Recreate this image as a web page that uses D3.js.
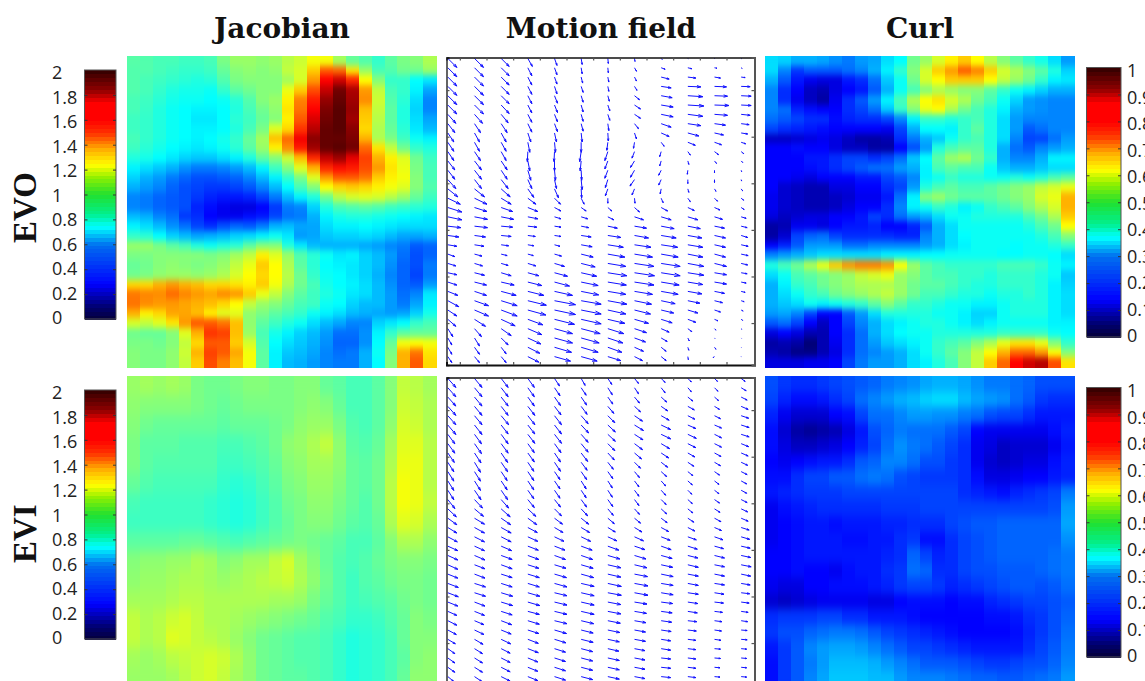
<!DOCTYPE html>
<html>
<head>
<meta charset="utf-8">
<script src="https://cdn.jsdelivr.net/npm/d3@7"></script>
<style>
  html, body { margin: 0; background: #fff; overflow: hidden; }
  svg { display: block; }
</style>
</head>
<body>
<div id="chart"></div>
<script>
const columnTitles = ["Jacobian", "Motion field", "Curl"];
const rowTitles = ["EVO", "EVI"];
const jacobianTicks = [0, 0.2, 0.4, 0.6, 0.8, 1, 1.2, 1.4, 1.6, 1.8, 2];
const curlTicks = [0, 0.1, 0.2, 0.3, 0.4, 0.5, 0.6, 0.7, 0.8, 0.9, 1];

// panel values in hundredths
const jacobianEvo = [
[91,90,88,88,86,86,88,98,104,104,102,104,110,114,122,122,106,94,90,84,92,98,100,108],
[90,90,88,86,84,84,86,94,100,102,100,102,112,116,132,150,148,128,104,88,90,96,96,104],
[90,88,86,84,82,80,82,90,98,100,100,100,106,116,140,164,172,158,124,100,84,84,74,70],
[90,88,84,80,78,78,76,84,92,96,100,100,120,132,152,174,188,178,140,112,88,84,72,58],
[88,86,82,78,76,76,74,76,82,90,100,104,126,144,160,182,190,180,142,114,90,82,68,52],
[88,85,80,76,74,72,72,74,80,88,96,102,128,146,164,186,192,182,134,112,92,80,66,52],
[86,84,80,76,74,70,70,74,82,86,94,100,126,150,170,188,192,180,132,110,92,80,68,58],
[86,84,80,76,74,72,72,74,80,88,98,118,130,156,176,190,192,184,130,108,94,82,70,62],
[88,84,80,76,74,72,74,78,84,94,106,134,148,166,184,190,190,186,136,108,98,86,76,72],
[86,82,78,74,72,70,72,76,82,92,104,126,142,160,180,190,192,188,148,128,112,96,84,80],
[80,78,74,70,66,64,64,68,72,80,92,100,114,134,158,174,180,168,154,136,126,118,96,86],
[72,68,64,60,54,50,50,52,56,62,72,86,100,118,136,158,162,160,152,140,128,120,98,88],
[66,60,56,50,46,42,42,44,46,52,62,72,84,98,118,140,150,150,146,132,126,122,100,88],
[60,56,52,46,42,40,38,38,40,44,52,62,74,88,100,124,130,132,130,126,122,118,100,90],
[52,50,46,44,42,38,34,32,32,34,40,50,62,72,80,96,110,116,118,116,110,104,94,86],
[52,50,46,44,42,34,30,26,24,24,28,38,50,52,66,80,88,90,92,90,86,84,82,80],
[62,60,52,48,38,36,28,26,26,30,32,40,48,50,60,72,78,80,80,78,76,74,72,70],
[72,68,62,54,48,40,36,42,46,44,50,60,62,58,58,68,72,72,74,72,70,68,68,68],
[84,82,74,66,62,58,60,62,66,68,72,76,70,56,58,64,66,66,68,66,62,58,58,60],
[104,104,98,92,88,80,76,80,82,92,100,100,80,70,62,60,60,60,58,56,52,50,44,46],
[98,98,100,100,100,100,98,100,106,112,126,118,104,90,82,76,70,72,66,62,56,48,42,46],
[94,96,100,102,100,98,100,104,112,120,132,124,108,92,82,74,72,70,66,62,54,46,42,50],
[96,98,102,104,104,102,104,108,116,124,130,124,110,96,84,76,74,70,66,60,52,46,40,50],
[130,130,136,140,136,134,130,130,128,126,132,122,108,96,88,78,74,72,68,62,54,46,44,56],
[145,143,142,147,143,140,138,142,140,132,120,112,100,92,86,80,76,70,68,62,56,48,52,70],
[146,142,140,140,138,136,134,130,124,112,104,100,94,88,86,76,74,66,62,62,56,50,58,72],
[136,126,130,138,138,134,126,118,118,102,98,92,88,84,76,72,68,62,60,58,56,58,66,78],
[116,112,118,128,140,150,150,146,134,102,92,86,80,76,68,62,58,52,52,66,70,74,84,88],
[96,94,94,100,118,136,156,154,134,104,88,78,72,66,62,56,48,48,54,72,84,92,94,94],
[98,98,96,100,112,130,150,150,132,116,90,74,68,64,60,54,46,46,54,74,94,122,124,122],
[100,98,98,102,114,136,154,150,138,122,92,72,64,62,58,52,48,50,60,76,98,136,146,128],
[100,98,98,102,112,132,152,144,134,122,92,72,62,60,56,52,50,50,60,74,100,136,150,130]
];
const curlEvo = [
[34,33,30,30,29,27,25,28,29,34,37,48,52,58,63,66,62,55,50,46,42,39,34,28],
[34,26,19,22,22,22,24,26,30,36,42,50,58,66,70,75,72,66,58,54,50,46,40,33],
[30,22,16,13,12,12,16,18,24,32,38,48,58,62,66,66,66,62,56,52,48,42,36,35],
[26,18,14,10,9,12,14,16,22,30,38,44,50,54,52,50,50,46,42,38,36,33,30,30],
[26,18,13,10,8,13,18,22,28,36,44,54,62,64,58,54,48,44,38,33,28,27,26,26],
[26,24,17,15,14,14,18,20,24,32,42,50,60,62,54,48,44,40,36,30,28,27,26,26],
[24,22,20,18,18,15,17,18,18,20,26,36,42,42,40,42,44,40,34,28,26,26,26,26],
[20,18,17,16,15,14,14,14,14,13,20,30,37,37,36,42,46,40,34,28,22,24,26,26],
[10,10,11,12,13,12,10,8,8,9,18,25,30,32,38,42,44,40,34,26,20,20,24,28],
[14,14,15,14,14,12,10,10,8,8,14,21,28,40,44,46,46,40,30,24,22,26,28,30],
[14,14,14,16,16,18,20,20,18,20,24,32,37,46,52,54,48,42,30,26,26,30,36,36],
[14,14,14,15,16,18,20,22,24,24,28,30,36,44,46,44,44,38,32,30,30,32,34,34],
[14,14,13,12,14,14,14,16,16,20,22,26,36,38,42,40,40,38,38,40,38,40,44,46],
[14,11,10,9,9,12,12,14,14,18,20,28,40,44,46,44,44,46,48,50,52,56,58,60],
[13,11,10,9,9,10,11,13,13,16,24,36,50,52,48,46,46,46,48,50,52,58,60,68],
[13,11,10,9,9,10,12,14,14,18,26,36,38,42,40,36,38,42,44,46,50,54,58,68],
[12,10,11,12,12,14,14,16,20,18,24,28,30,34,38,38,40,40,40,40,44,48,54,66],
[8,9,13,13,12,14,16,16,17,14,14,17,22,30,34,38,38,38,38,38,40,44,48,62],
[8,11,20,23,24,20,18,18,18,18,17,17,26,30,34,37,38,38,38,38,38,40,44,50],
[14,17,22,28,28,28,24,24,26,26,26,26,28,30,34,36,38,38,38,37,38,38,40,42],
[26,28,30,32,34,34,34,34,34,36,36,36,37,37,38,38,38,38,37,37,38,38,37,34],
[40,44,48,54,60,66,70,72,72,70,62,52,46,44,42,42,42,42,44,44,44,42,38,36],
[34,38,44,46,48,50,52,56,58,60,52,50,46,44,44,42,42,40,42,42,42,40,38,32],
[30,36,42,44,48,50,52,54,54,54,52,48,46,46,44,42,40,40,42,42,42,40,36,33],
[30,34,38,42,44,48,50,52,54,56,52,48,44,44,42,40,40,38,40,40,42,40,36,34],
[30,32,34,38,36,38,40,42,46,50,46,42,42,40,38,38,36,36,38,40,40,40,36,34],
[28,29,26,20,14,14,22,28,34,40,40,40,40,38,38,36,33,33,38,40,40,40,36,34],
[22,24,20,14,10,14,20,26,30,34,36,38,40,40,38,36,34,36,38,38,38,38,36,36],
[12,14,12,9,9,14,18,24,30,34,37,38,38,40,40,40,40,40,42,42,42,42,38,37],
[8,9,8,5,9,13,18,24,28,32,34,36,38,42,44,46,50,54,60,64,64,60,50,42],
[9,8,6,6,9,12,18,24,26,28,30,34,38,42,46,50,56,62,68,74,74,70,62,50],
[12,12,12,13,13,14,20,25,28,28,30,34,36,40,44,50,56,66,74,82,86,88,76,64]
];
const jacobianEvi = [
[104,106,104,106,104,98,96,96,98,100,100,98,98,100,100,94,92,88,88,92,100,112,110,106],
[102,100,100,100,100,98,96,94,96,98,98,98,98,100,102,100,94,88,88,92,100,114,112,108],
[100,96,94,94,94,94,94,92,94,94,94,96,98,102,104,104,98,90,88,92,102,116,114,108],
[98,92,92,92,90,90,90,88,88,90,92,96,102,104,108,112,102,92,90,94,106,118,118,110],
[98,92,90,90,90,90,90,86,86,88,90,94,100,102,106,106,102,94,92,96,108,120,120,110],
[94,90,88,88,88,88,88,84,82,84,88,92,98,100,104,104,100,94,92,96,110,122,120,110],
[88,86,86,86,86,86,84,82,80,82,86,90,96,98,102,102,98,94,90,96,110,122,120,112],
[86,86,86,86,86,86,84,82,80,82,86,90,94,98,100,100,96,92,90,94,108,118,116,108],
[92,92,92,92,94,94,92,90,88,90,92,94,96,98,96,94,92,88,88,92,100,108,108,102],
[100,102,102,104,104,108,106,100,102,106,106,112,116,106,100,94,90,88,90,94,98,100,100,98],
[102,104,104,106,108,108,106,104,106,108,110,112,114,108,102,96,90,86,90,92,96,98,98,96],
[106,106,106,108,110,110,108,108,108,108,108,106,106,104,98,94,90,86,88,90,92,96,98,96],
[112,108,110,114,116,112,108,108,106,104,102,100,98,96,94,90,88,84,84,86,90,94,100,98],
[112,108,110,118,116,112,110,108,104,100,96,94,92,90,90,88,84,80,82,84,88,94,100,100],
[106,104,106,110,112,114,116,114,108,102,96,94,92,90,90,88,84,80,82,84,88,92,100,102],
[104,104,104,106,110,114,116,112,106,102,96,94,92,92,90,88,84,80,82,84,88,94,102,102]
];
const curlEvi = [
[21,19,18,18,19,20,21,22,23,25,26,27,29,30,30,29,27,25,25,24,23,21,21,21],
[20,17,15,15,16,18,20,24,26,28,30,31,33,34,34,31,29,28,27,24,22,19,18,18],
[17,13,11,11,11,14,15,20,24,24,26,28,28,27,27,25,24,21,20,20,18,16,16,16],
[15,11,8,7,8,9,12,16,21,23,25,24,24,24,22,20,14,13,13,13,13,13,15,17],
[15,12,10,10,11,12,14,17,20,24,27,25,24,22,20,18,13,12,10,11,11,11,13,16],
[14,13,14,15,16,16,18,22,23,26,26,24,21,21,19,18,13,11,10,11,12,12,15,17],
[15,15,18,20,20,22,22,24,25,24,21,20,19,19,19,18,15,12,12,13,14,14,16,17],
[16,17,18,19,19,19,20,20,20,20,20,20,20,20,20,18,17,16,15,17,18,19,20,25],
[13,15,16,17,18,18,18,18,18,19,19,19,20,20,20,20,20,20,20,20,20,20,21,28],
[13,14,15,16,16,15,16,16,16,17,17,18,18,18,20,21,22,22,23,23,23,23,23,29],
[13,14,15,16,16,16,15,15,16,16,18,19,15,15,18,20,21,22,23,23,23,23,23,27],
[14,14,15,16,16,16,16,16,16,17,18,23,20,17,18,20,21,22,23,23,23,23,24,25],
[14,14,15,14,14,13,15,16,16,18,19,24,23,18,18,20,21,21,22,22,22,23,24,25],
[13,12,12,14,14,15,15,15,16,17,19,20,20,19,17,18,19,20,21,22,22,21,22,24],
[11,10,11,12,13,13,13,13,12,12,14,15,15,15,14,15,15,17,18,19,20,20,21,22],
[18,19,19,19,20,20,18,18,16,16,16,15,14,14,14,14,14,15,15,16,18,19,21,23],
[19,21,21,23,24,25,25,24,22,20,19,18,17,16,15,14,14,14,14,15,17,19,21,24],
[16,19,22,26,28,29,29,28,26,24,22,20,20,19,18,17,16,16,16,16,18,20,22,25],
[15,19,22,25,28,31,31,31,30,28,26,24,22,22,22,21,20,19,19,20,21,21,23,26],
[15,19,22,26,29,32,32,32,31,31,28,26,26,26,25,24,23,23,22,22,23,24,25,28]
];

// motion field components
const motionEvoU = [
[9,9,8,4.5,2.5,1,.5,.5,1,.5,.5,.5],
[9,9,8,4,2.5,1,.5,2,4,4,2.5,1],
[9,9,8,4,2.5,1.5,1,2,8,8,6,4],
[9,9,8,4,2.5,2,1,2.5,10,13,12,9],
[9,9,8,4,3,2,1.5,5,11,15,13,10],
[9,9,8,4,3,2,2,6,12,16,14.5,10],
[8,8,7,4,3,2,2,6,12,15,13,9],
[7,6,6,4,3,2,1,4,10,13,11,8],
[6,5,5,3,2,1,.5,2,8,11,9,6.5],
[6,5,5,2,1,0,-1,-1,3,7.5,7,4.5],
[6,6,5,-.5,-.5,-1.5,-3,-2.5,-1.5,2.5,4,2.5],
[7,7,6,2,0,-1,-3,-4,-1.5,1,2,1.5],
[7,7,6,3,1,.5,-3,-4,-2.5,-.5,0,.5],
[8,7,7,4,2,1,-2.5,-4.5,-2.5,0,0,.5],
[10,10,9,6,4,.5,-2.5,-2.5,-1,1,1.5,1.5],
[12.5,12.5,10,8,6,3,0,.5,2,2.5,3,2.5],
[14,12.5,11.5,10,6.5,5,4,5,6.5,6.5,5.5,3],
[14,13,12.5,10,6.5,6.5,6,9,10,10,8,5],
[13,13,11.5,9,6.5,7.5,9.5,12,13,12.5,10,6],
[11,11,10,7.5,6.5,10,13,14,15,14,11,6.5],
[9,9.5,7.5,6,5.5,11,15.5,16.5,16.5,15,11,7],
[7,7.5,6,5.5,7,12,17,18,17,15,11,7],
[8,8,7,8,10,14,18,19.5,19,16,12,6.5],
[9,10,10,11,13,15.5,19,20,19,16,12,6],
[9,12,13,14,15,17,18.5,19.5,18,15,12,5],
[10,12,15,16,18,17.5,18,18,17,14,10,4],
[11,14,16,18.5,21,20,19,17,14,12,8,3],
[9,14,16,18,21,20,18,16,12.5,10,6,2],
[8,11,14,15,20,20,17,14,11,8,3.5,1.5],
[5,7,10,14,18,19,16,12,8,4,1.5,.7],
[4,5,7,13,18,18,15,11,6,1.5,.5,.3],
[4,5,5,12,17,17,14,9,5,1,1.5,.3],
[4,5,5,11,16,16,13,8,5,.5,-1.5,.3]
];
const motionEvoV = [
[9,9,8,8,7,6,5,3,1,.5,.3,.3],
[9,9,8,8,7,6,5,3.5,1.5,1,.5,.7],
[9,9,8,8,7,6,5,4,2,1,1,.5],
[9,9,8,8,7.5,6,5,4,1.5,.5,.5,.3],
[9,9,8,8,7.5,6.5,5.5,4,2,1,.5,.5],
[9,9,8.5,8,7.5,7,6,4,2,1,.5,.5],
[9,9,8.5,8,7.5,7,6,4,2.5,2,1,1],
[9,9,9,8.5,8,7.5,7,5,3.5,2,1.5,1],
[9,9,9,9,9,9,8,6,3.5,3,2,1],
[9,9,9,10,10,10,8,6,4,3,2.5,1.5],
[9,9,9,10,10,10,9,6.5,5,3.5,3,2],
[9,9,9,10,10,10,8,6.5,5,3.5,2.5,1.5],
[9,9,9,10,10,10,8,7,5,4,2.5,1.5],
[9,9,9,9,9,10,8,6.5,5.5,4,3,1.5],
[8,8,8,8.5,9,9,7,6,5,3.5,2.5,2],
[6,6,6,6,6,6,5,5,4.5,3.5,3,2],
[4.5,4,4,4,3.5,3.5,3.5,4.5,3.5,3,2.5,2],
[3,2.5,2.5,2,2,2,3,3,3,3,2.5,1.5],
[1.5,1.5,1,1,1,1.5,2,2,2.5,2.5,2,1.5],
[1.5,1.5,1,1,1,1.5,2,2.5,2.5,2.5,2.5,2],
[1.5,1.5,1,1,1.5,2,2.5,2.5,2.5,2.5,2.5,1.5],
[2.5,2,1.5,1.5,2,3,3,3,3,3,3,1.5],
[2.5,2.5,2,2.5,3,3.5,3,3,3,3,3,1.5],
[2,2.5,3,3,3.5,3.5,3,3,3,2.5,2,1],
[3,3,3,3.5,4,3.5,3,3,3,2.5,2,1],
[4,4,4,4,4,3.5,3,3,3,2.5,2,1],
[6,5,5,4.5,4,3.5,3.5,3.5,3,2.5,2,1],
[6,6,6,5,4.5,4,4,4,3,3,2,1],
[7,7,6.5,5.5,5,4.5,4,4,3.5,3,1.5,1],
[8,8,7,6,5,5,5,4,3.5,3,1.5,.7],
[7,8,7,6,5,5,5,4,3.5,3,.5,.3],
[7,7,6.5,6,5,5,5,4,4,3,2,.3],
[6,6,6,5.5,4.5,4.5,4,4,4,3,1,.3]
];
const motionEviU = [
[8,7.5,7,6.5,5,4,4,4,4,3.5,3,4],
[8,7.5,7,6.5,5.5,5,4.5,4,4,3.5,3.5,5],
[8,7.5,7,6.5,6,5.5,5,5,5.5,5,4,6],
[8,7.5,7,7,6.5,6,6,6,6.5,6.5,5,7],
[8,7.5,7.5,7,7,7,7,8,8,7,6,7.5],
[8,7.5,7,7,7,7.5,7.5,9,9.5,8,7,8],
[7,7,7,7,7,7,7.5,8.5,9.5,8.5,7,8],
[7,7,7,6.5,6.5,7,7,8,8.5,8,7,7.5],
[6.5,6.5,6.5,6.5,6,6.5,6.5,7,7.5,7,6.5,7],
[6,6,6.5,6,6,6,5.5,6,6.5,6,6,6.5],
[6,6,6,6,5.5,5.5,5,5,5.5,5,5,6],
[6,6,6,6,5.5,5,4.5,4.5,4.5,4.5,4.5,5.5],
[6,6.5,6.5,6,5.5,5,4.5,4.5,4.5,4,4.5,5.5],
[7,8,7.5,6.5,6,5.5,5,4.5,5,4.5,5,6],
[8.5,9,9,8,7,6.5,5.5,5,5.5,5,5.5,6.5],
[9,10,9.5,9,8,7.5,6.5,6,6,6,6.5,7],
[9,10,10,9.5,8.5,8.5,7.5,7.5,7.5,7,7,8],
[9.5,10,10,10,9.5,9.5,9,9,9,8.5,8.5,8.5],
[10,10,10.5,10.5,10.5,11,11,10.5,10,9.5,9,9],
[10,10.5,11,11,11,11.5,12,11.5,11,10,10,9.5],
[10,10.5,11,11,11.5,12,13,12.5,11.5,10.5,10,10],
[10,10.5,11,11.5,12,12.5,13,13,12,10.5,10,9.5],
[10.5,11,11,11.5,12.5,13,13.5,13.5,12,10.5,10,9],
[10.5,11,11.5,12,12.5,13,13.5,13.5,12,10.5,9.5,8.5],
[10,10.5,11.5,12,12.5,13,13,12.5,11.5,10,9,8],
[9,10,11,11.5,12.5,13,13,12,11,9.5,8,7],
[9,9.5,10.5,11.5,12.5,12.5,12.5,11.5,10.5,9,7.5,6.5],
[8.5,9.5,10,11,12,12,12,11,10,8.5,7,6],
[7.5,8.5,9.5,10.5,11.5,12,11.5,11,9.5,8,6.5,6],
[7,8,9,10.5,11,11.5,11,10.5,9.5,8,6,5.5],
[7,8,9,10,11,11.5,11.5,10.5,9.5,8,6,5.5],
[7,8,9,10,11,11.5,11.5,10.5,9.5,8,5.5,5.5],
[6,7.5,9,10,11,11.5,11.5,10.5,9.5,8,5.5,5.5]
];
const motionEviV = [
[9,9,9,9,7.5,7,6,5,4,3.5,3,3],
[9,9,9,9,8,7.5,7,6,5,4,3.5,3],
[9,9,9,9,8.5,8,7,6,5,4,3.5,3],
[9,9,9,9,8.5,8,7,5.5,4.5,3.5,3,3],
[9,9,9,9,9,8,7,5.5,4.5,3.5,3,2.5],
[9.5,9.5,9,9,9,8,7,5.5,4.5,3.5,3,2.5],
[9.5,9.5,9.5,9,9,8,7,5.5,4.5,4,3.5,2.5],
[9.5,10,9.5,9,9,8.5,7,6,5,4,3.5,3],
[9.5,10,9.5,9,9,8.5,7,6,5,4,3.5,3],
[9.5,10,9.5,9,9,8,7,6,5,4,3.5,3],
[9.5,9.5,9,9,8,8,7,6,5,4,3.5,3],
[9.5,9.5,9,9,8,8,7,6,5,4,3.5,3],
[9.5,9.5,9.5,8.5,8,7.5,7,6,5,4,3.5,3],
[9,8.5,8.5,8,7.5,7.5,7,6,5,4,3.5,3],
[8,7.5,8,7.5,7,7,6.5,5.5,5,4,3.5,3],
[6.5,6,6.5,6.5,6,6,5.5,5,4.5,4,3.5,3],
[5.5,5.5,5.5,5,5,5,4.5,4.5,4,3.5,3,2.5],
[5,5,5,4.5,4.5,4.5,4,4,3.5,3,3,2.5],
[4.5,4.5,4.5,4,4,4,4,3.5,3.5,3,2.5,2],
[4.5,4.5,4,4,4,4,3.5,3.5,3,2.5,2.5,2],
[4.5,4,4,3.5,3.5,3.5,3,3,2.5,2.5,2,2],
[4,4,3.5,3.5,3.5,3.5,3,2.5,2.5,2,2,2],
[4,3.5,3.5,3.5,3.5,3,3,2.5,2,2,1.5,1.5],
[4,3.5,3.5,3.5,3,3,2.5,2.5,2,1.5,1.5,1],
[4,4,3.5,3.5,3,3,2.5,2,1.5,1.5,1,1],
[4,4,3.5,3,3,3,2.5,2,1.5,1.5,1,1],
[4.5,4,4,3.5,3,3,2.5,2,1.5,1,1,1],
[4.5,4.5,4,3.5,3.5,3,2.5,2,1.5,1,1,.5],
[4.5,5,4.5,4,3.5,3,2.5,2,1.5,1,1,.5],
[5,5,4.5,4,3.5,3,2.5,2,1.5,1,.5,.5],
[5,5,4.5,4,3.5,3,2.5,2,1,1,.5,.5],
[5,5,4.5,4,3.5,3,2.5,2,1,1,.5,.5],
[5,5,4.5,4,3.5,3,2.5,2,1,1,.5,.5]
];

const mapStops = [0, 0.14, 0.37, 0.62, 0.82, 1];
const mapColors = ["#00002a", "#0000ff", "#00ffff", "#ffff00", "#ff0000", "#2a0000"];
const barStops = [0, 0.05, 0.14, 0.3, 0.37, 0.42, 0.5, 0.57, 0.62, 0.68, 0.75, 0.8, 0.87, 0.92, 1];
const barColors = ["#05003a", "#000070", "#0000ff", "#0070f0", "#00ffff", "#00f090", "#20e030", "#90f000", "#ffff00", "#ffb000", "#ff3000", "#ff0000", "#ff0000", "#900000", "#300000"];

const width = 1145;
const height = 681;
const PANEL = 309;
const rowTop = [56, 376];
const heatLeft = { jacobian: 127, curl: 765 };
const frameLeft = 446.5;
const frameWidth = 308;
const frameHeight = 307.5;
const frameTop = [57.5, 377.5];

const svg = d3.select("#chart").append("svg").attr("width", width).attr("height", height);
const defs = svg.append("defs");

const mapColor = d3.scaleLinear().domain(mapStops).range(mapColors).clamp(true);
const barColor = d3.scaleLinear().domain(barStops).range(barColors).clamp(true);

// the source panels are soft in y, sharp steps in x
function softFilter(id, blurY) {
  const f = defs.append("filter")
    .attr("id", id)
    .attr("x", 0).attr("y", 0).attr("width", "100%").attr("height", "100%")
    .attr("color-interpolation-filters", "sRGB");
  f.append("feGaussianBlur").attr("stdDeviation", `0.5 ${blurY}`);
  f.append("feComponentTransfer").append("feFuncA")
    .attr("type", "linear").attr("slope", 20);
}

function drawHeat(id, values, left, top, maxValue) {
  const x = d3.scaleBand().domain(d3.range(values[0].length)).range([left, left + PANEL]);
  const y = d3.scaleBand().domain(d3.range(values.length)).range([top, top + PANEL + 2]);
  softFilter(id, y.bandwidth() / 3.2);
  svg.append("g")
    .attr("filter", `url(#${id})`)
    .attr("shape-rendering", "crispEdges")
    .selectAll("g")
    .data(values)
    .join("g")
    .attr("transform", (d, i) => `translate(0, ${y(i)})`)
    .selectAll("rect")
    .data(d => d)
    .join("rect")
    .attr("x", (d, i) => x(i))
    .attr("width", x.bandwidth() + 0.5)
    .attr("height", y.bandwidth() + 0.5)
    .attr("fill", d => mapColor(d / maxValue));
}

function drawMotion(us, vs, top) {
  const x = d3.scaleLinear().domain([0, 11.55]).range([frameLeft, frameLeft + frameWidth]);
  const y = d3.scaleLinear().domain([0, 33]).range([top, top + frameHeight]);
  const arrow = d3.scaleLinear().domain([0, 1]).range([0, 1]);

  const arrows = us.flatMap((row, r) => row.map((u, c) => ({ r, c, u, v: vs[r][c] })));
  const arrowPath = d => {
    const x0 = x(d.c + 0.05), y0 = y(d.r + 0.1);
    const x1 = x0 + arrow(d.u), y1 = y0 + arrow(d.v);
    const p = d3.path();
    p.moveTo(x0, y0);
    p.lineTo(x1, y1);
    // short barbs, they almost merge with the shaft in the source
    const bx = x1 - 0.3 * d.u, by = y1 - 0.3 * d.v;
    p.moveTo(bx - 0.09 * d.v, by + 0.09 * d.u);
    p.lineTo(x1, y1);
    p.lineTo(bx + 0.09 * d.v, by - 0.09 * d.u);
    return p.toString();
  };

  svg.append("g")
    .attr("fill", "none")
    .attr("stroke", "#1212ff")
    .attr("stroke-width", 1)
    .style("filter", "blur(0.3px)")
    .selectAll("path")
    .data(arrows)
    .join("path")
    .attr("d", arrowPath);

  const xTicks = d3.range(11).map(i => i + 0.5);
  const yTicks = d3.range(6).map(i => 3.5 + i * 5);
  const frame = (axis, tx, ty, ticks, color, sw) => {
    const g = svg.append("g")
      .attr("transform", `translate(${tx}, ${ty})`)
      .call(axis.tickValues(ticks).tickSize(-3).tickFormat(""));
    g.select(".domain").attr("stroke", color).attr("stroke-width", sw);
    g.selectAll(".tick line").attr("stroke", "#555").attr("stroke-width", 1.2);
  };
  frame(d3.axisTop(x), 0, top, xTicks, "#111", 1.3);
  frame(d3.axisLeft(y), frameLeft, 0, yTicks, "#111", 1.3);
  frame(d3.axisBottom(x), 0, top + frameHeight, xTicks, "#111", 2);
  frame(d3.axisRight(y), frameLeft + frameWidth, 0, yTicks, "#555", 2);
}

function drawBar(left, barWidth, top, bottom, ticks, labelX, labelTop) {
  const maxValue = ticks[ticks.length - 1];
  const levels = d3.range(64);
  const band = d3.scaleBand().domain(levels).range([bottom, top]);
  const y = d3.scaleLinear().domain([0, maxValue]).range([bottom, top]);
  const labelY = d3.scaleLinear().domain([0, maxValue]).range([bottom - 1, top + labelTop]);

  svg.append("g")
    .attr("shape-rendering", "crispEdges")
    .selectAll("rect")
    .data(levels)
    .join("rect")
    .attr("x", left)
    .attr("y", d => band(d))
    .attr("width", barWidth)
    .attr("height", band.bandwidth() + 0.5)
    .attr("fill", d => barColor((d + 0.5) / 64));

  svg.append("rect")
    .attr("x", left).attr("y", top)
    .attr("width", barWidth).attr("height", bottom - top)
    .attr("fill", "none").attr("stroke", "#555").attr("stroke-width", 1);

  const inner = ticks.slice(1, -1);
  [d3.axisLeft(y), d3.axisRight(y)].forEach((axis, i) => {
    const g = svg.append("g")
      .attr("transform", `translate(${i ? left + barWidth : left}, 0)`)
      .call(axis.tickValues(inner).tickSize(-3).tickFormat(""));
    g.select(".domain").remove();
    g.selectAll(".tick line").attr("stroke", "#333");
  });

  svg.append("g")
    .selectAll("text")
    .data(ticks)
    .join("text")
    .attr("x", labelX)
    .attr("y", d => labelY(d))
    .attr("dy", "0.36em")
    .attr("font-family", "'Open Sans', sans-serif")
    .attr("font-size", "18px")
    .attr("fill", "#222")
    .text(d => d);
}

drawHeat("softA", jacobianEvo, heatLeft.jacobian, rowTop[0], 200);
drawHeat("softB", jacobianEvi, heatLeft.jacobian, rowTop[1], 200);
drawHeat("softC", curlEvo, heatLeft.curl, rowTop[0], 100);
drawHeat("softD", curlEvi, heatLeft.curl, rowTop[1], 100);

drawMotion(motionEvoU, motionEvoV, frameTop[0]);
drawMotion(motionEviU, motionEviV, frameTop[1]);

drawBar(84.5, 31.5, 70, 319, jacobianTicks, 52, 3);
drawBar(84.5, 31.5, 390, 639, jacobianTicks, 52, 3);
drawBar(1086.5, 34.5, 67.5, 337, curlTicks, 1127, 3);
drawBar(1086.5, 34.5, 387.5, 657, curlTicks, 1127, 3);

const titleX = d3.scalePoint().domain(columnTitles).range([282, 920]);
svg.append("g")
  .selectAll("text")
  .data(columnTitles)
  .join("text")
  .attr("x", d => titleX(d))
  .attr("y", 38)
  .attr("text-anchor", "middle")
  .attr("font-family", "'DejaVu Serif', serif")
  .attr("font-weight", "bold")
  .attr("font-size", "28px")
  .attr("fill", "#111")
  .text(d => d);

const rowBase = d3.scalePoint().domain(rowTitles).range([243, 563]);
svg.append("g")
  .selectAll("text")
  .data(rowTitles)
  .join("text")
  .attr("transform", d => `translate(36, ${rowBase(d)}) rotate(-90)`)
  .attr("font-family", "'Liberation Serif', serif")
  .attr("font-weight", "bold")
  .attr("font-size", "33px")
  .attr("fill", "#111")
  .text(d => d);
</script>
</body>
</html>
